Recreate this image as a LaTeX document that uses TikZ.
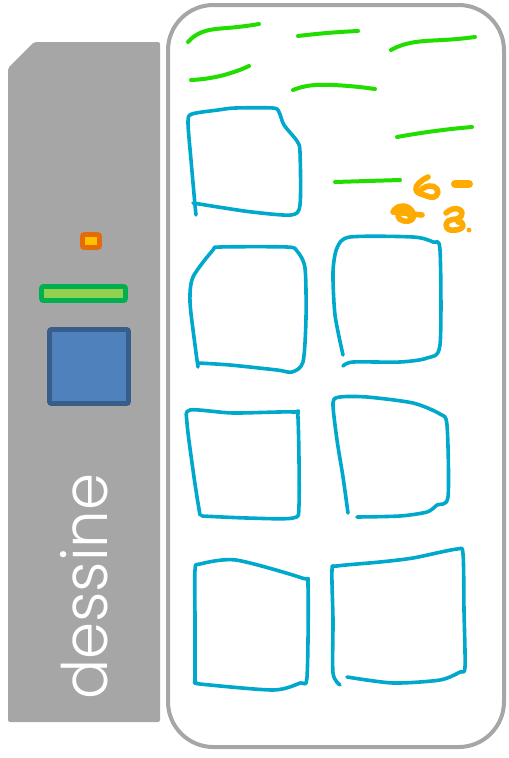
\documentclass[tikz,border=0pt]{standalone}
\usepackage{fontspec}
\newfontfamily\labelfont{Poppins}[UprightFont=* Light]
\usetikzlibrary{hobby}
\definecolor{panelgray}{HTML}{A6A6A6}
\definecolor{inkgreen}{HTML}{22DD00}
\definecolor{inkblue}{HTML}{00A8CC}
\definecolor{inkorange}{HTML}{FFAA00}
\definecolor{ledorange}{HTML}{E36C09}
\definecolor{ledyellow}{HTML}{FFC000}
\definecolor{bargreen}{HTML}{00B050}
\definecolor{barlime}{HTML}{92D050}
\definecolor{btnblue}{HTML}{4F81BD}
\definecolor{btndark}{HTML}{385D8A}

\begin{document}
\begin{tikzpicture}[x=0.75pt, y=-0.75pt, use Hobby shortcut,
    pen/.style={line width=3pt, line cap=round, line join=round},
    greenpen/.style={pen, draw=inkgreen},
    bluepen/.style={pen, draw=inkblue, line width=2.7pt},
    orangepen/.style={pen, draw=inkorange, line width=4.2pt},
    widget/.style={line width=3.6pt, rounded corners=1.5pt},
]
    \useasboundingbox (0,0) rectangle (508,758);

    % left device panel
    \fill[panelgray, rounded corners=1.5pt] (8,68) -- (34,42) -- (160,42) -- (160,722) -- (8,722) -- cycle;
    \draw[widget, draw=ledorange, fill=ledyellow] (82.5,234.5) rectangle (99.5,247.5);
    \draw[widget, draw=bargreen, fill=barlime] (41.5,286.5) rectangle (125.5,300.5);
    \draw[widget, draw=btndark, fill=btnblue] (49.5,329.5) rectangle (128.5,403.5);
    \node[text=white, rotate=90, anchor=base west, inner sep=0pt,
          font=\labelfont\fontsize{47}{47}\selectfont] (title) at (107,700) {\scalebox{0.95}[1]{dessine}};

    % drawing sheet
    \draw[panelgray, line width=3pt, rounded corners=34pt] (168,5) rectangle (504,747);

    % green scribbles
    \draw[greenpen] (188,42)..(200,33)..(227,28)..(259,24);
    \draw[greenpen] (298,36)..(327,33)..(358,31);
    \draw[greenpen] (391,50)..(397,47)..(443,40)..(475,37);
    \draw[greenpen] (191,80)..(220,76)..(249,66);
    \draw[greenpen] (293,90)..(307,86)..(333,85)..(375,89);
    \draw[greenpen] (397,137)..(435,131)..(472,127);
    \draw[greenpen] (335,182)..(367,181)..(400,180);

    % orange scribbles
    \draw[orangepen] (428,177)..(419,183)..(416,190)..(424,195)..(436,196)..(437,189)..(429,186)..(422,189);
    \draw[orangepen, line width=6pt] (455,184) -- (469,184);
    \draw[orangepen] (394,210)..(403,206)..(412,211)..(413,218)..(404,221)..(398,216)..(406,212)..(410,216);
    \draw[orangepen] (393,212) -- (422,215);
    \draw[orangepen] (446,213)..(453,209)..(462,213)..(457,219)..(448,221)..(447,228)..(456,230)..(463,225)..(458,222);
    \fill[inkorange] (469,230) circle (2.4);

    % blue frames
    \draw[bluepen] plot[smooth, tension=0.45] coordinates {(196,215) (195,205) (191,160) (188,122) (192,114) (218,110) (235,108) (273,108) (279,112) (284,125) (297,141) (300,152) (300,205) (291,215) (252,212) (218,207) (193,203)};
    \draw[bluepen] plot[smooth, tension=0.45] coordinates {(198,367) (195,345) (190,302) (193,277) (213,250) (220,247) (287,247) (297,251) (305,268) (306,318) (303,362) (292,372) (277,370) (230,365) (198,363)};
    \draw[bluepen] plot[smooth, tension=0.45] coordinates {(343,355) (335,315) (333,272) (337,248) (350,237) (413,237) (433,242) (440,250) (440,345) (427,358) (400,362) (353,362) (343,366)};
    \draw[bluepen] plot[smooth, tension=0.45] coordinates {(200,515) (197,497) (193,470) (187,423) (190,410) (233,413) (293,412) (298,418) (299,505) (293,518) (247,518) (202,516)};
    \draw[bluepen] plot[smooth, tension=0.45] coordinates {(348,513) (343,477) (337,440) (333,403) (340,397) (367,397) (413,403) (440,414) (447,425) (448,497) (437,505) (427,512) (400,516) (357,517)};
    \draw[bluepen] plot[smooth, tension=0.45] coordinates {(195,683) (195,620) (195,570) (200,564) (236,560) (302,578) (308,586) (307,677) (300,683) (273,690) (200,684) (196,682)};
    \draw[bluepen] plot[smooth, tension=0.45] coordinates {(340,685) (333,673) (333,620) (332,570) (337,566) (380,562) (413,558) (457,549) (463,554) (464,610) (465,667) (460,672) (440,680) (393,683) (347,677)};
\end{tikzpicture}
\end{document}
